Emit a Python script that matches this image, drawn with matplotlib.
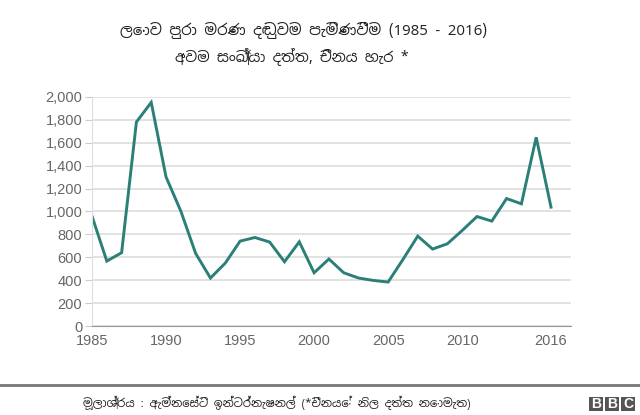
import matplotlib as mpl
mpl.use('Agg')
import matplotlib.pyplot as plt
from matplotlib.patches import Rectangle
from matplotlib.ticker import FuncFormatter

years = list(range(1985, 2017))
executions = [959, 567, 640, 1782, 1953, 1302, 1003, 634, 419, 549,
              741, 773, 733, 561, 735, 465, 585, 465, 419, 398,
              384, 581, 785, 672, 718, 834, 956, 916, 1113, 1067,
              1648, 1038]
xticks = [1985, 1990, 1995, 2000, 2005, 2010, 2016]
yticks = list(range(0, 2001, 200))

title = "ලොව පුරා මරණ දඬුවම පැමිණවීම (1985 - 2016)"
subtitle = "අවම සංඛ්‍යා දත්ත, චීනය හැර *"
source = "මූලාශ්‍රය : ඇම්නෙස්ටි ඉන්ටර්නැෂනල් (*චීනයේ නිල දත්ත නොමැත)"

sinhala = ['Noto Sans Sinhala', 'Noto Sans', 'DejaVu Sans']
plt.rcParams['font.family'] = ['Liberation Sans', 'DejaVu Sans']

fig = plt.figure(figsize=(6.4, 4.15), dpi=100)
ax = fig.add_axes([92/640, 1-326/415, (571-92)/640, (326-97)/415])

ax.plot(years, executions, color="#2a8077", lw=2.1, solid_joinstyle="miter")

ax.set_xlim(1985, 2017.35)
ax.set_ylim(0, 2000)
ax.set_xticks(xticks)
ax.set_yticks(yticks)
ax.yaxis.set_major_formatter(FuncFormatter(lambda v, p: f"{int(v):,}"))
ax.grid(axis="y", color="#dddddd", lw=1.2)
ax.set_axisbelow(True)
for s in ["top", "right"]:
  ax.spines[s].set_visible(False)
ax.spines["left"].set_color("#dddddd")
ax.spines["bottom"].set_color("#999999")
ax.tick_params(axis="y", length=5, color="#cccccc", labelcolor="#666666", labelsize=10.5, pad=2)
ax.tick_params(axis="x", length=0, labelcolor="#666666", labelsize=10.5, pad=6)

fig.text(303/640, 1-30/415, title, family=sinhala, fontsize=10.8, ha="center", va="center", color="#222222")
fig.text(292/640, 1-57/415, subtitle, family=sinhala, fontsize=10.5, ha="center", va="center", color="#222222")

fig.add_artist(plt.Line2D([0, 1], [1-385/415]*2, transform=fig.transFigure, color="#777777", lw=2))
fig.text(277/640, 1-403/415, source, family=sinhala, fontsize=8.3, ha="center", va="center", color="#222222")

for i, ch in enumerate("BBC"):
  x0 = 589 + i*16
  fig.add_artist(Rectangle((x0/640, 1-411/415), 14/640, 14/415, transform=fig.transFigure,
                           color="#555555", lw=0))
  fig.text((x0+7)/640, 1-404/415, ch, fontsize=10, fontweight="bold", color="white",
           ha="center", va="center")

plt.savefig("out.png", dpi=100)
plt.close(fig)
